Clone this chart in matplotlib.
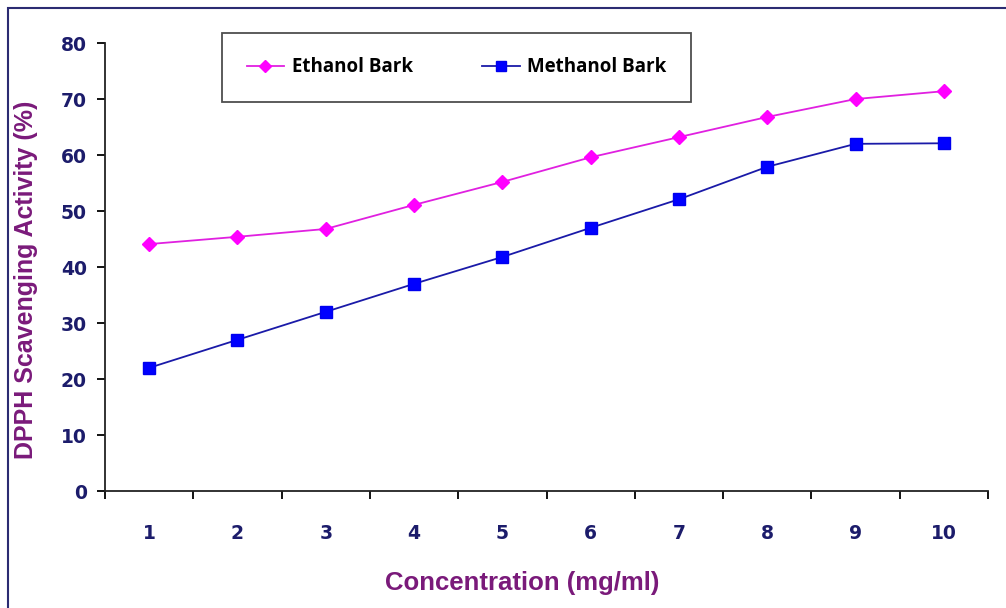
from matplotlib import pyplot as plt
from matplotlib.patches import Rectangle

concentration = [1, 2, 3, 4, 5, 6, 7, 8, 9, 10]
ethanol_bark = [44.1, 45.4, 46.8, 51.1, 55.2, 59.6, 63.2, 66.8, 70.0, 71.4]
methanol_bark = [22.0, 27.0, 32.0, 37.0, 41.8, 47.0, 52.1, 57.9, 62.0, 62.1]
y_ticks = [0, 10, 20, 30, 40, 50, 60, 70, 80]

tick_col = '#1c1c6b'
label_col = '#7a1a7a'

fig = plt.figure(figsize=(10.06, 6.08), dpi=100)
ax = fig.add_axes([0.1044, 0.1924, 0.8777, 0.7368])

# outer frame of the figure
fig.patches.append(Rectangle((8/1006, -0.01), 1.2, 1 - 8/608 + 0.01, transform=fig.transFigure,
                             fill=False, edgecolor='#2b2b72', linewidth=1.5))

ax.plot(concentration, ethanol_bark, '-', color='#e020e0', lw=1.3,
        marker='D', markersize=7, markerfacecolor='#ff00ff', markeredgecolor='#ff00ff',
        label='Ethanol Bark')
ax.plot(concentration, methanol_bark, '-', color='#1a1aa8', lw=1.3,
        marker='s', markersize=8, markerfacecolor='#0000ff', markeredgecolor='#0000ee',
        label='Methanol Bark')

ax.set_xlim(0.5, 10.5)
ax.set_ylim(0, 80)
ax.set_yticks(y_ticks)
ax.set_xticks([c + 0.5 for c in [0] + concentration])
ax.set_xticklabels([])
ax.set_xticks(concentration, minor=True)
ax.set_xticklabels([str(c) for c in concentration], minor=True)

for s in ['top', 'right']:
    ax.spines[s].set_visible(False)
for s in ['left', 'bottom']:
    ax.spines[s].set_linewidth(1.3)
    ax.spines[s].set_color('#222222')

ax.tick_params(axis='y', direction='out', length=6, width=1.3, pad=7,
               labelsize=13.5, labelcolor=tick_col)
ax.tick_params(axis='x', which='major', direction='out', length=6, width=1.3)
ax.tick_params(axis='x', which='minor', length=0, pad=24, labelsize=13.5, labelcolor=tick_col)
for t in ax.get_yticklabels() + ax.get_xticklabels(minor=True):
    t.set_fontweight('bold')
    t.set_family('DejaVu Sans')

fig.text(522/1006, 1 - 583/608, 'Concentration (mg/ml)', fontsize=18.5, color=label_col,
         fontweight='bold', family='Liberation Sans', ha='center', va='center')
fig.text(26/1006, 1 - 280/608, 'DPPH Scavenging Activity (%)', fontsize=18, color=label_col,
         fontweight='bold', family='Liberation Sans', ha='center', va='center', rotation=90)

leg = fig.legend(loc='upper left', bbox_to_anchor=(0.221, 0.946), ncol=2, borderaxespad=0,
                 prop={'family': 'Open Sans', 'weight': 'bold', 'size': 13.5},
                 frameon=True, fancybox=False, edgecolor='#222222', borderpad=1.3,
                 handlelength=2.0, handletextpad=0.4, columnspacing=3.7, markerscale=0.9)
leg.get_frame().set_linewidth(1.3)

fig.savefig('out.png', dpi=100)
